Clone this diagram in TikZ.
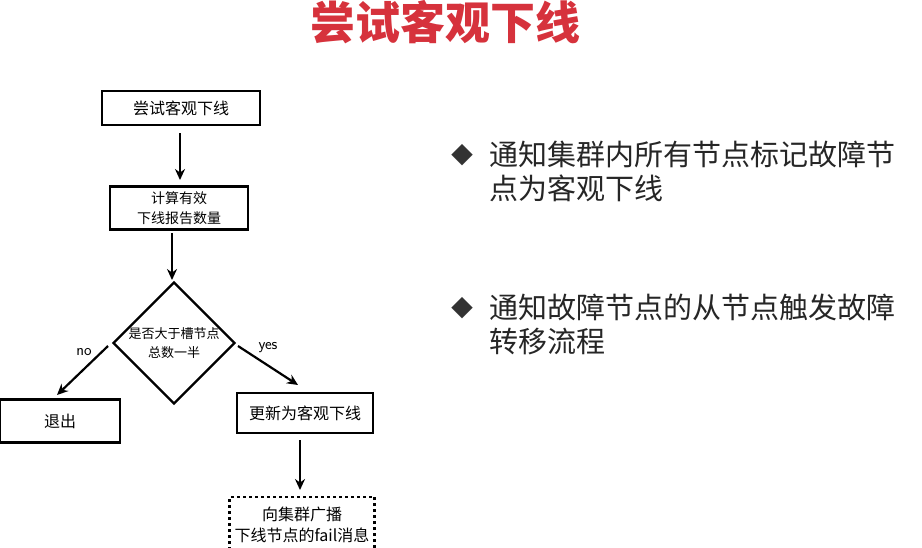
\documentclass[tikz,border=0pt]{standalone}
\usepackage{fontspec}
\setmainfont{Noto Sans CJK SC}
\usetikzlibrary{shapes.geometric,arrows.meta}
\begin{document}
\begin{tikzpicture}[x=1pt,y=-1pt,
  box/.style={draw,line width=2.2pt,inner sep=0pt,font=\fontsize{16}{21}\selectfont,align=center},
  arr/.style={-{Stealth[length=11pt,width=10pt]},line width=2.2pt},
  bul/.style={anchor=west,font=\fontsize{29}{34}\selectfont,align=left,text=black!85}]
\useasboundingbox (0,0) rectangle (922,547);
\fill[white] (0,0) rectangle (922,547);
\node[text={rgb,255:red,214;green,50;blue,60},font=\fontsize{45}{47}\selectfont\bfseries] (title) at (445,22) {尝试客观下线};
\node[box,minimum width=158pt,minimum height=34pt] (b1) at (181,108) {尝试客观下线};
\node[box,minimum width=138pt,minimum height=43pt,font=\fontsize{14}{20}\selectfont] (b2) at (179,208) {计算有效\\下线报告数量};
\node[draw,diamond,line width=2.2pt,minimum width=118pt,minimum height=117pt,inner sep=0pt,font=\fontsize{13}{19}\selectfont,align=center] (d) at (174,343) {是否大于槽节点\\总数一半};
\node[box,minimum width=120pt,minimum height=43pt] (ex) at (60,421) {退出};
\node[box,minimum width=136pt,minimum height=40pt] (up) at (305,413) {更新为客观下线};
\node[box,dashed,minimum width=145pt,minimum height=56pt] (bc) at (302,525) {向集群广播\\下线节点的fail消息};
\coordinate (s1) at (180,133); \coordinate (e1) at (180,180);
\draw[arr] (s1) -- (e1);
\coordinate (s2) at (172,233); \coordinate (e2) at (172,280);
\draw[arr] (s2) -- (e2);
\coordinate (nl) at (108,346); \coordinate (nle) at (57,395);
\draw[arr] (nl) -- (nle);
\coordinate (yl) at (238,346); \coordinate (yle) at (298,385);
\draw[arr] (yl) -- (yle);
\coordinate (ul) at (300,440); \coordinate (ule) at (300,490);
\draw[arr] (ul) -- (ule);
\node[font=\sffamily\fontsize{16}{16}\selectfont] (no) at (84,352) {no};
\node[font=\sffamily\fontsize{16}{16}\selectfont] (yes) at (268,348) {yes};
\node[font=\fontsize{22}{22}\selectfont,text=black!80] (k1) at (462,155) {◆};
\node[bul] (t1) at (486,171) {通知集群内所有节点标记故障节\\点为客观下线};
\node[font=\fontsize{22}{22}\selectfont,text=black!80] (k2) at (462,308) {◆};
\node[bul] (t2) at (486,324) {通知故障节点的从节点触发故障\\转移流程};
\end{tikzpicture}
\end{document}
